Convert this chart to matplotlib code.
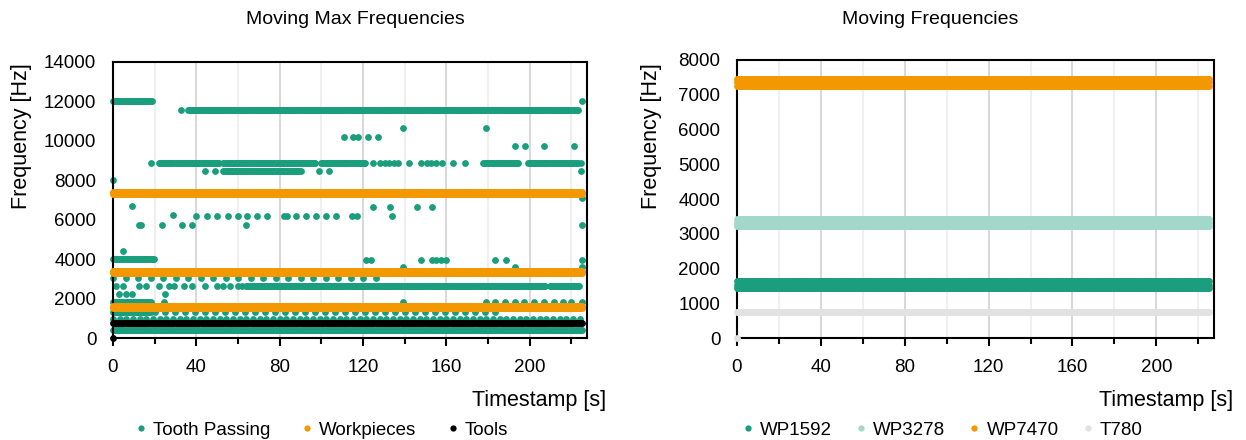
import numpy as np
import matplotlib.pyplot as plt
from matplotlib.lines import Line2D
from matplotlib.ticker import MultipleLocator

plt.rcParams['font.family'] = ['Liberation Sans', 'DejaVu Sans']

TEAL = '#1a9e7e'
ORANGE = '#f39800'
LIGHT_TEAL = '#a2d8ca'
LIGHT_GREY = '#e1e2e1'

STEP = 0.5          # sampling interval of the moving windows [s]
X_MAX = 227.5

# ---------------- Moving max frequencies ----------------
# Tooth passing: continuous runs (start [s], end [s], frequency [Hz])
tooth_runs = [
    (0.0, 18.5, 12000),
    (36.0, 223.0, 11570),
    (22.0, 51.0, 8890),
    (53.0, 97.0, 8890),
    (100.0, 121.0, 8890),
    (177.6, 195.0, 8890),
    (199.0, 223.0, 8890),
    (53.0, 90.0, 8470),
    (0.0, 19.5, 3990),
    (64.0, 207.6, 2640),
    (209.9, 224.0, 2640),
    (0.0, 18.3, 1840),
    (0.0, 18.0, 1300),
    (0.0, 225.0, 410),
]
# Tooth passing: intermittent runs (start [s], end [s], frequency [Hz], spacing [s])
tooth_intermittent = [
    (0.0, 130.0, 3060, 6.0),
    (20.0, 185.0, 1300, 4.8),
    (0.0, 225.0, 950, 3.2),
]
# Tooth passing: isolated detections (frequency [Hz], timestamps [s])
tooth_points = [
    (8000, [0.0]),
    (12000, [225.0]),
    (11570, [32.6]),
    (10670, [139.0, 179.0]),
    (10210, [111.0, 115.0, 117.6, 122.4, 127.0]),
    (9760, [193.0, 197.6, 207.0, 221.4]),
    (8890, [18.0, 124.8, 128.3, 130.5, 132.3, 134.8, 137.0, 142.3, 148.0, 150.5,
            152.5, 155.0, 158.0, 163.3, 168.9, 224.6]),
    (8470, [44.3, 49.0, 98.7, 103.5, 224.6]),
    (7100, [225.0]),
    (6700, [9.0]),
    (6660, [124.8, 133.0, 145.7, 153.0]),
    (6250, [29.0]),
    (6200, [40.0, 45.0, 50.0, 55.0, 60.0, 64.3, 69.0, 74.0, 82.0, 83.5, 88.0, 92.7,
            97.5, 102.4, 107.0, 114.9, 117.3, 134.0]),
    (5750, [12.4, 13.3, 23.6, 33.0, 38.0, 64.0, 225.0]),
    (4410, [4.6]),
    (3960, [121.3, 123.6, 148.0, 153.0, 155.0, 157.5, 159.8, 183.2, 188.8, 225.0]),
    (3620, [139.3, 193.0, 225.0]),
    (2640, [1.4, 4.6, 12.5, 15.7, 22.0, 26.8, 29.2, 34.0, 37.9, 44.3, 49.8, 53.0,
            56.2, 60.2, 61.8]),
    (2210, [2.9, 6.1, 9.3, 25.1]),
    (1840, [24.3, 139.0, 178.8, 183.5, 188.0, 193.0, 197.5, 202.0, 207.0, 211.5,
            216.0, 220.0, 225.0]),
]
# Workpiece maxima: low / mid / high of each band [Hz]
workpiece_bands = [
    [7290, 7340, 7390],
    [3280, 3330, 3380],
    [1500, 1550, 1600],
]
tool_level = 745
workpiece_end = 225.0

# ---------------- Moving frequencies ----------------
series_names = ['WP1592', 'WP3278', 'WP7470', 'T780']
series_colors = [TEAL, LIGHT_TEAL, ORANGE, LIGHT_GREY]
series_bands = [
    [1430, 1530, 1630],
    [3210, 3320, 3430],
    [7260, 7360, 7460],
    [740],
]


def timestamps(t0, t1, step=STEP):
    return np.arange(t0, t1 + 1e-9, step)


def collect_tooth():
    ts, fs = [], []
    for t0, t1, f in tooth_runs:
        t = timestamps(t0, t1)
        ts.append(t)
        fs.append(np.full(t.size, f))
    for t0, t1, f, dt in tooth_intermittent:
        t = timestamps(t0, t1, dt)
        ts.append(t)
        fs.append(np.full(t.size, f))
    for f, tlist in tooth_points:
        ts.append(np.asarray(tlist))
        fs.append(np.full(len(tlist), f))
    return np.concatenate(ts), np.concatenate(fs)


def band_points(levels, t_end):
    t = timestamps(0.0, t_end)
    tt = np.concatenate([t for _ in levels])
    ff = np.concatenate([np.full(t.size, v) for v in levels])
    return tt, ff


def style(ax, ymax, ystep):
    ax.set_xlim(0, X_MAX)
    ax.set_ylim(0, ymax)
    ax.xaxis.set_major_locator(MultipleLocator(40))
    ax.xaxis.set_minor_locator(MultipleLocator(20))
    ax.yaxis.set_major_locator(MultipleLocator(ystep))
    ax.grid(axis='x', which='major', color='#d9d9d9', lw=1.5)
    ax.grid(axis='x', which='minor', color='#efefef', lw=1.5)
    ax.set_axisbelow(True)
    for sp in ax.spines.values():
        sp.set_linewidth(1.5)
        sp.set_color('black')
    ax.tick_params(axis='y', length=0, pad=12, labelsize=13.5)
    ax.tick_params(axis='x', which='major', length=6, width=1.5, pad=9,
                   labelsize=13.5)
    ax.tick_params(axis='x', which='minor', length=4, width=1.5)
    ax.text(1.04, -0.225, 'Timestamp [s]', transform=ax.transAxes,
            ha='right', va='center', fontsize=15.5)


fig = plt.figure(figsize=(12.46, 4.4), dpi=100)
W, H = 1246, 440
axL = fig.add_axes([113 / W, 1 - 338 / H, (587 - 113) / W, (338 - 62) / H])
axR = fig.add_axes([737 / W, 1 - 338 / H, (1214 - 737) / W, (338 - 60) / H])

MS = 24

# left panel
tt, ff = collect_tooth()
axL.scatter(tt, ff, s=MS, color=TEAL, lw=0, zorder=2, clip_on=False)
for levels in workpiece_bands:
    t, f = band_points(levels, workpiece_end)
    axL.scatter(t, f, s=MS, color=ORANGE, lw=0, zorder=3, clip_on=False)
t, f = band_points([tool_level], workpiece_end)
axL.scatter(np.append(t, 0.0), np.append(f, 0.0), s=MS, color='black', lw=0,
            zorder=4, clip_on=False)
style(axL, 14000, 2000)

# right panel
for name, col, levels in zip(series_names, series_colors, series_bands):
    t, f = band_points(levels, workpiece_end)
    axR.scatter(t, f, s=MS, color=col, lw=0, zorder=3, clip_on=False)
axR.scatter([0.0], [0.0], s=MS, color=LIGHT_GREY, lw=0, zorder=3, clip_on=False)
style(axR, 8000, 1000)

# titles and axis labels
fig.text(355 / W, 1 - 20 / H, 'Moving Max Frequencies', ha='center',
         va='center', fontsize=14)
fig.text(930 / W, 1 - 20 / H, 'Moving Frequencies', ha='center',
         va='center', fontsize=14)
for x in (22, 652):
    fig.text(x / W, 1 - 136 / H, 'Frequency [Hz]', rotation=90, ha='center',
             va='center', fontsize=15.5)


def legend(labels, colors, xc, spacing):
    handles = [Line2D([], [], ls='none', marker='o', ms=4.5, color=c,
                      markeredgewidth=0) for c in colors]
    fig.legend(handles, labels, loc='center', bbox_to_anchor=(xc / W, 1 - 430 / H),
               ncol=len(labels), frameon=False, fontsize=13.5, handlelength=0.5,
               handletextpad=0.4, columnspacing=spacing, borderpad=0)


legend(['Tooth Passing', 'Workpieces', 'Tools'], [TEAL, ORANGE, 'black'], 322, 1.7)
legend(series_names, series_colors, 943, 1.3)

fig.savefig('out.png', dpi=100)
